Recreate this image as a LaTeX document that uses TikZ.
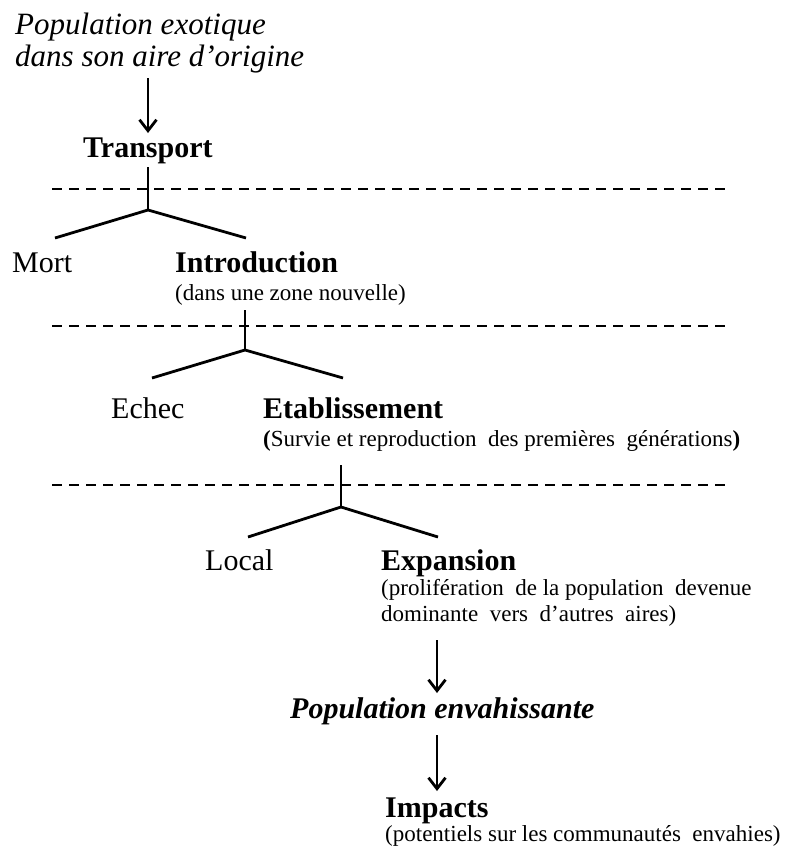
\documentclass[tikz,border=0pt]{standalone}
\usepackage{fontspec}
\setmainfont{Liberation Serif}
\usetikzlibrary{arrows.meta}
\begin{document}
\begin{tikzpicture}[x=1pt,y=-1pt,
  big/.style={font=\fontsize{30}{32}\selectfont, inner sep=0pt, anchor=base west},
  bigb/.style={font=\fontsize{30}{32}\selectfont\bfseries, inner sep=0pt, anchor=base west},
  bigi/.style={font=\fontsize{31}{32}\selectfont\itshape, inner sep=0pt, anchor=base west},
  bigbi/.style={font=\fontsize{30}{32}\selectfont\bfseries\itshape, inner sep=0pt, anchor=base west},
  small/.style={font=\fontsize{23}{26}\selectfont, inner sep=0pt, anchor=base west},
  ln/.style={line width=2.8pt},
  dl/.style={line width=2.5pt, dash pattern=on 9.5pt off 7.5pt},
  arr/.style={line width=2.8pt, -{Straight Barb[length=11pt,width=17pt,line width=2.8pt]}}]
\useasboundingbox (0,0) rectangle (787,854);

% texts
\node[bigi] (pop1) at (15,34) {Population exotique};
\node[bigi] (pop2) at (15,66) {dans son aire d’origine};
\node[bigb] (transport) at (83,157) {Transport};
\node[big] (mort) at (12,272) {Mort};
\node[bigb] (intro) at (175,272) {Introduction};
\node[small] (introd) at (175,300) {(dans une zone nouvelle)};
\node[big] (echec) at (111,418) {Echec};
\node[bigb] (etab) at (263,418) {Etablissement};
\node[small] (etabd) at (263,446) {\textbf{(}Survie et reproduction\ \ des premières\ \ générations\textbf{)}};
\node[big] (local) at (205,570) {Local};
\node[bigb] (exp) at (381,570) {Expansion};
\node[small] (exp1) at (381,595) {(prolifération\ \ de la population\ \ devenue};
\node[small] (exp2) at (381,621) {dominante\ \ vers\ \ d’autres\ \ aires)};
\node[bigbi] (inv) at (290,718) {Population envahissante};
\node[bigb] (imp) at (385,817) {Impacts};
\node[small] (impd) at (385,841) {(potentiels sur les communautés\ \ envahies)};

% named points
\coordinate (a1s) at (148,78);  \coordinate (a1e) at (148,133);
\coordinate (t1) at (148,167);  \coordinate (j1) at (148,210);
\coordinate (l1) at (55,238);   \coordinate (r1) at (246,238);
\coordinate (t2) at (245,310);  \coordinate (j2) at (245,350);
\coordinate (l2) at (152,378);  \coordinate (r2) at (343,378);
\coordinate (t3) at (341,465);  \coordinate (j3) at (341,507);
\coordinate (l3) at (248,537);  \coordinate (r3) at (438,537);
\coordinate (a3s) at (437,640); \coordinate (a3e) at (437,693);
\coordinate (a4s) at (437,735); \coordinate (a4e) at (437,791);
\coordinate (d1a) at (52,189);  \coordinate (d1b) at (730,189);
\coordinate (d2a) at (52,326);  \coordinate (d2b) at (730,326);
\coordinate (d3a) at (52,485);  \coordinate (d3b) at (730,485);

% dashed separators
\draw[dl] (d1a) -- (d1b);
\draw[dl] (d2a) -- (d2b);
\draw[dl] (d3a) -- (d3b);

% arrows
\draw[arr] (a1s) -- (a1e);
\draw[arr] (a3s) -- (a3e);
\draw[arr] (a4s) -- (a4e);

% branchings
\draw[ln] (t1) -- (j1);
\draw[ln] (l1) -- (j1) -- (r1);
\draw[ln] (t2) -- (j2);
\draw[ln] (l2) -- (j2) -- (r2);
\draw[ln] (t3) -- (j3);
\draw[ln] (l3) -- (j3) -- (r3);
\end{tikzpicture}
\end{document}
